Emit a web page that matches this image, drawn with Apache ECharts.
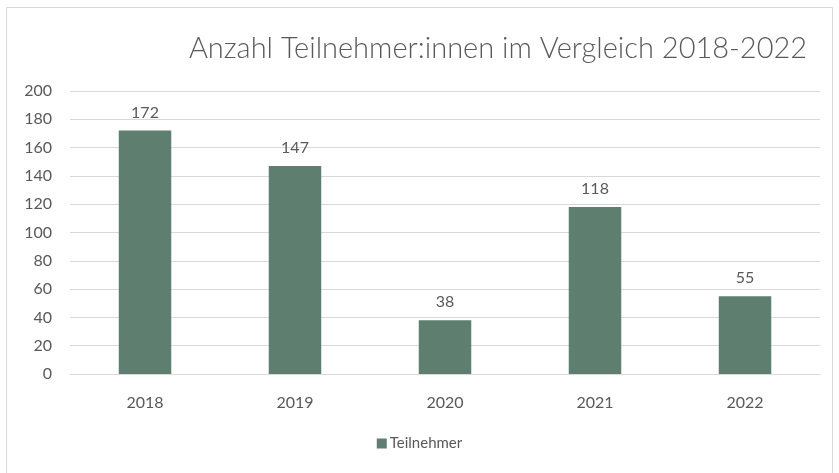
<!DOCTYPE html>
<html>
<head>
<meta charset="utf-8">
<script src="https://cdn.jsdelivr.net/npm/echarts@6/dist/echarts.min.js"></script>
<style>
  html, body { margin: 0; padding: 0; background: #fff; }
  #chart { width: 839px; height: 473px; }
</style>
</head>
<body>
<div id="chart"></div>
<script>
  // data
  var years = ['2018', '2019', '2020', '2021', '2022'];
  var teilnehmer = [172, 147, 38, 118, 55];
  var yTicks = { min: 0, max: 200, step: 20 };

  var myChart = echarts.init(document.getElementById('chart'));
  var option = {
    backgroundColor: '#fff',
    textStyle: { fontFamily: 'Lato, "Open Sans", sans-serif' },
    graphic: [{
      type: 'rect',
      shape: { x: 6.5, y: 7.5, width: 826, height: 470 },
      style: { fill: 'none', stroke: '#d9d9d9', lineWidth: 1 },
      silent: true
    }],
    title: {
      text: 'Anzahl Teilnehmer:innen im Vergleich 2018-2022',
      left: 493,
      top: 29,
      textAlign: 'center',
      textStyle: {
        fontFamily: 'Lato, "Open Sans", sans-serif',
        fontWeight: 300,
        fontSize: 29,
        color: '#595959'
      }
    },
    legend: {
      data: ['Teilnehmer'],
      bottom: 17,
      left: 'center',
      icon: 'rect',
      itemWidth: 10,
      itemHeight: 10,
      itemGap: 4,
      textStyle: { color: '#595959', fontSize: 15, padding: [0, 0, 0, -2] }
    },
    grid: { left: 70, right: 19, top: 91, bottom: 99, containLabel: false },
    xAxis: {
      type: 'category',
      data: years,
      axisLine: { lineStyle: { color: '#d9d9d9' } },
      axisTick: { show: false },
      axisLabel: { color: '#595959', fontSize: 16, margin: 21 }
    },
    yAxis: {
      type: 'value',
      min: yTicks.min,
      max: yTicks.max,
      interval: yTicks.step,
      axisLine: { show: false },
      axisTick: { show: false },
      splitLine: { lineStyle: { color: '#d9d9d9' } },
      axisLabel: { color: '#595959', fontSize: 16, margin: 18 }
    },
    series: [{
      name: 'Teilnehmer',
      type: 'bar',
      data: teilnehmer,
      barWidth: '35%',
      itemStyle: { color: '#5e7f6f' },
      label: {
        show: true,
        position: 'top',
        distance: 10,
        color: '#595959',
        fontSize: 16
      }
    }]
  };
  myChart.setOption(option);
</script>
</body>
</html>
